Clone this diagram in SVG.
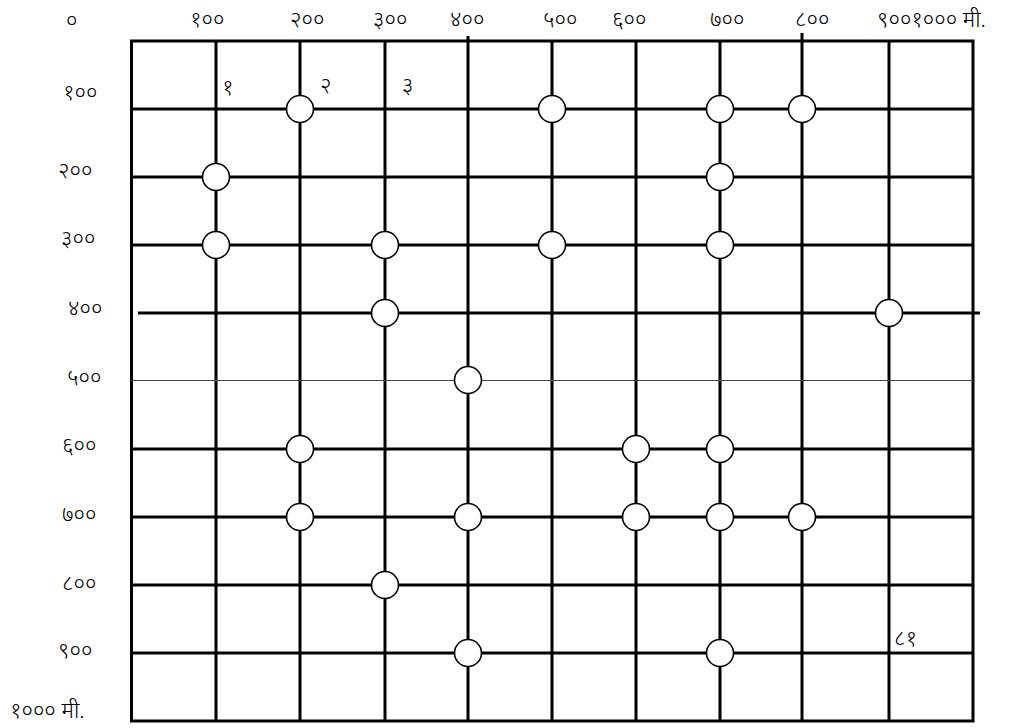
<svg xmlns="http://www.w3.org/2000/svg" width="1014" height="728" viewBox="0 0 1014 728">
<style>
.g{stroke:#000;stroke-width:3;fill:none}
.t{stroke:#444;stroke-width:1;fill:none}
.n{fill:#fff;stroke:#000;stroke-width:1.6}
text{font-family:"Noto Sans","Noto Sans Devanagari","Lohit Devanagari","DejaVu Sans",sans-serif;font-size:22px;font-weight:300;fill:#000}
</style>
<rect width="1014" height="728" fill="#fff"/>
<g id="grid">
<rect class="g" x="131.5" y="41" width="841.5" height="680"/>
<line class="g" x1="216" y1="41" x2="216" y2="721"/>
<line class="g" x1="300" y1="41" x2="300" y2="721"/>
<line class="g" x1="385" y1="41" x2="385" y2="721"/>
<line class="g" x1="468" y1="36" x2="468" y2="721"/>
<line class="g" x1="552" y1="41" x2="552" y2="721"/>
<line class="g" x1="636" y1="41" x2="636" y2="721"/>
<line class="g" x1="720" y1="41" x2="720" y2="721"/>
<line class="g" x1="802" y1="33" x2="802" y2="721"/>
<line class="g" x1="889" y1="41" x2="889" y2="721"/>
<line class="g" x1="131" y1="109" x2="973" y2="109"/>
<line class="g" x1="131" y1="177" x2="973" y2="177"/>
<line class="g" x1="131" y1="245" x2="973" y2="245"/>
<line class="g" x1="138" y1="313" x2="980" y2="313"/>
<line class="t" x1="131" y1="380.5" x2="973" y2="380.5"/>
<line class="g" x1="131" y1="449" x2="973" y2="449"/>
<line class="g" x1="131" y1="517" x2="973" y2="517"/>
<line class="g" x1="131" y1="585" x2="973" y2="585"/>
<line class="g" x1="131" y1="653" x2="973" y2="653"/>
</g>
<g id="nodes">
<g id="n100-200"><circle class="n" cx="300" cy="109" r="13.5"/></g>
<g id="n100-500"><circle class="n" cx="552" cy="109" r="13.5"/></g>
<g id="n100-700"><circle class="n" cx="720" cy="109" r="13.5"/></g>
<g id="n100-800"><circle class="n" cx="802" cy="109" r="13.5"/></g>
<g id="n200-100"><circle class="n" cx="216" cy="177" r="13.5"/></g>
<g id="n200-700"><circle class="n" cx="720" cy="177" r="13.5"/></g>
<g id="n300-100"><circle class="n" cx="216" cy="245" r="13.5"/></g>
<g id="n300-300"><circle class="n" cx="385" cy="245" r="13.5"/></g>
<g id="n300-500"><circle class="n" cx="552" cy="245" r="13.5"/></g>
<g id="n300-700"><circle class="n" cx="720" cy="245" r="13.5"/></g>
<g id="n400-300"><circle class="n" cx="385" cy="313" r="13.5"/></g>
<g id="n400-900"><circle class="n" cx="889" cy="313" r="13.5"/></g>
<g id="n500-400"><circle class="n" cx="468" cy="380" r="13.5"/></g>
<g id="n600-200"><circle class="n" cx="300" cy="449" r="13.5"/></g>
<g id="n600-600"><circle class="n" cx="636" cy="449" r="13.5"/></g>
<g id="n600-700"><circle class="n" cx="720" cy="449" r="13.5"/></g>
<g id="n700-200"><circle class="n" cx="300" cy="517" r="13.5"/></g>
<g id="n700-400"><circle class="n" cx="468" cy="517" r="13.5"/></g>
<g id="n700-600"><circle class="n" cx="636" cy="517" r="13.5"/></g>
<g id="n700-700"><circle class="n" cx="720" cy="517" r="13.5"/></g>
<g id="n700-800"><circle class="n" cx="802" cy="517" r="13.5"/></g>
<g id="n800-300"><circle class="n" cx="385" cy="585" r="13.5"/></g>
<g id="n900-400"><circle class="n" cx="468" cy="653" r="13.5"/></g>
<g id="n900-700"><circle class="n" cx="720" cy="653" r="13.5"/></g>
</g>
<g id="labels">
<text x="66" y="28">०</text>
<text x="190" y="27">१००</text>
<text x="290" y="27">२००</text>
<text x="373" y="27">३००</text>
<text x="450" y="27">४००</text>
<text x="543" y="27">५००</text>
<text x="612" y="27">६००</text>
<text x="710" y="27">७००</text>
<text x="795" y="27">८००</text>
<text x="877" y="27">९००१००० मी.</text>
<text x="63" y="100">१००</text>
<text x="58" y="178">२००</text>
<text x="61" y="246">३००</text>
<text x="68" y="316">४००</text>
<text x="67" y="385">५००</text>
<text x="62" y="453">६००</text>
<text x="62" y="522">७००</text>
<text x="62" y="591">८००</text>
<text x="58" y="658">९००</text>
<text x="10" y="718">१००० मी.</text>
<text x="222" y="95">१</text>
<text x="320" y="93">२</text>
<text x="402" y="93">३</text>
<text x="894" y="646">८१</text>
</g>
</svg>
